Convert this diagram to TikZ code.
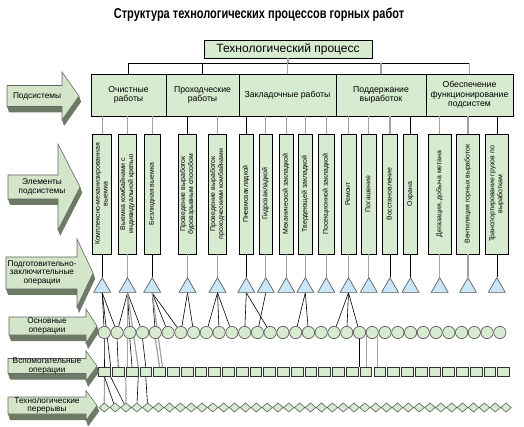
\documentclass[tikz,border=0pt]{standalone}
\usepackage{fontspec}
\setmainfont{Liberation Sans}
\usepackage{graphicx}
\usetikzlibrary{shapes.geometric,backgrounds}

\definecolor{boxgreen}{HTML}{D6EBCF}
\definecolor{arrface}{HTML}{D3E6CA}
\definecolor{arrside}{HTML}{6C7A66}
\definecolor{triblue}{HTML}{C9E7F6}
\definecolor{linegray}{HTML}{A2A2A2}

\tikzset{every picture/.style={line width=0.75pt}}
\tikzset{
  topbox/.style={draw=black, fill=boxgreen, line width=0.6pt, minimum width=126pt, minimum height=13.5pt, inner sep=0pt, font=\fontsize{9}{10}\selectfont},
  subbox/.style={draw=black, fill=boxgreen, line width=0.6pt, minimum height=31.5pt, inner sep=0pt, align=center, font=\fontsize{6.5}{7.2}\selectfont},
  elembox/.style={draw=black, fill=boxgreen, line width=0.6pt, minimum height=90pt, inner sep=0pt, font=\fontsize{5.2}{5.9}\selectfont},
  tri/.style={regular polygon, regular polygon sides=3, draw=black!65, fill=triblue, line width=0.5pt, minimum size=14.7pt, inner sep=0pt},
  circ/.style={circle, draw=black!65, fill=boxgreen, line width=0.5pt, minimum size=9.2pt, inner sep=0pt},
  sqr/.style={rectangle, draw=black!80, fill=boxgreen, line width=0.5pt, minimum width=8.8pt, minimum height=7pt, inner sep=0pt},
  dia/.style={diamond, draw=black!60, fill=boxgreen, line width=0.5pt, minimum width=8pt, minimum height=7pt, inner sep=0pt},
  blk/.style={draw=black, line width=0.45pt},
  gry/.style={draw=linegray, line width=0.9pt},
  arrfront/.style={fill=arrface, draw=black!60, line width=0.4pt},
  arrtext/.style={align=center, inner sep=0pt, font=\fontsize{6.2}{6.2}\selectfont},
}

% rotated text for the element boxes
\newcommand{\vlab}[1]{\rotatebox{90}{\begin{tabular}{@{}c@{}}#1\end{tabular}}}
% block arrow with a dark side: name, left, head start, tip, y, body half, head half, text x, text
\newcommand{\sidearrow}[9]{%
  \foreach \k in {1,...,12}{
    \fill[arrside, shift={({0.17*\k},{0.5*\k})}] (#2,{#5-#6}) -- (#3,{#5-#6}) -- (#3,{#5-#7}) -- (#4,#5) -- (#3,{#5+#7}) -- (#3,{#5+#6}) -- (#2,{#5+#6}) -- cycle;
  }
  \draw[arrfront] (#2,{#5-#6}) -- (#3,{#5-#6}) -- (#3,{#5-#7}) -- (#4,#5) -- (#3,{#5+#7}) -- (#3,{#5+#6}) -- (#2,{#5+#6}) -- cycle;
  \node[arrtext] (#1) at (#8,#5) {#9};
}

\begin{document}
\begin{tikzpicture}[x=0.75pt,y=0.75pt,yscale=-1,xscale=1]
    \useasboundingbox (0,0) rectangle (524,427);

    % Title
    \node[font=\fontsize{10.7}{12}\selectfont\bfseries] (title) at (259,15) {\scalebox{0.77}[1]{Структура технологических процессов горных работ}};

    % Text Node
    \node[topbox] (top) at (288,49) {Технологический процесс};

    % subsystems
    \node[subbox, minimum width=56.3pt] (p1) at (128.5,95) {Очистные\\работы};
    \node[subbox, minimum width=54.8pt] (p2) at (202.5,95) {Проходческие\\работы};
    \node[subbox, minimum width=72.8pt] (p3) at (287.5,95) {Закладочные работы};
    \node[subbox, minimum width=67.5pt] (p4) at (381,95) {Поддержание\\выработок};
    \node[subbox, minimum width=65.3pt] (p5) at (469.5,95) {Обеспечение\\функционирование\\подсистем};

    % elements of the subsystems
    \node[elembox, minimum width=14.3pt] (e1) at (102.2,194) {\vlab{Комплексно-механизированная\\выемка}};
    \node[elembox, minimum width=13.8pt] (e2) at (127.5,194) {\vlab{Выемка комбайнами с\\индивидуальной крепью}};
    \node[elembox, minimum width=11.8pt] (e3) at (152.2,194) {\vlab{Безлюдная выемка}};
    \node[elembox, minimum width=13.8pt] (e4) at (187.5,194) {\vlab{Проведение выработок\\буровзрывным способом}};
    \node[elembox, minimum width=13.8pt] (e5) at (217.5,194) {\vlab{Проведение выработок\\проходческими комбайнами}};
    \node[elembox, minimum width=10.5pt] (e6) at (246.3,194) {\vlab{Пневмозакладкой}};
    \node[elembox, minimum width=9.8pt] (e7) at (265.8,194) {\vlab{Гидрозакладкой}};
    \node[elembox, minimum width=10.5pt] (e8) at (286.3,194) {\vlab{Механической закладкой}};
    \node[elembox, minimum width=10.5pt] (e9) at (305.3,194) {\vlab{Твердеющей закладкой}};
    \node[elembox, minimum width=12pt] (e10) at (326.3,194) {\vlab{Посекционной закладкой}};
    \node[elembox, minimum width=11.3pt] (e11) at (348.5,194) {\vlab{Ремонт}};
    \node[elembox, minimum width=10.7pt] (e12) at (368.8,194) {\vlab{Погашение}};
    \node[elembox, minimum width=11.5pt] (e13) at (390,194) {\vlab{Восстановление}};
    \node[elembox, minimum width=10.8pt] (e14) at (410.5,194) {\vlab{Охрана}};
    \node[elembox, minimum width=17pt] (e15) at (439.7,194) {\vlab{Дегазация, добыча метана}};
    \node[elembox, minimum width=17pt] (e16) at (468,194) {\vlab{Вентиляция горных выработок}};
    \node[elembox, minimum width=17.3pt] (e17) at (496.8,194) {\vlab{Транспортирование грузов по\\выработкам}};

    % rows of operations
    \coordinate (brk) at (0,63);
    \coordinate (trirow) at (0,287.5);
    \foreach \i in {1,...,17} \node[tri] (t\i) at (e\i |- trirow) {};
    \foreach \i in {0,...,31} \node[circ] (c\i) at ({104.3+12.76*\i},332.5) {};
    \foreach \i in {0,...,29} \node[sqr] (s\i) at ({104.5+13.76*\i},372) {};
    \foreach \i in {0,...,37} \node[dia] (d\i) at ({104.3+10.857*\i},407.5) {};

    % tree above the elements
    \draw[blk] (p1.north |- brk) -- (p5.north |- brk);
    \draw[gry] (top.south) -- (top.south |- brk);
    \foreach \j/\s in {1/blk,2/blk,3/gry,4/gry,5/gry} \draw[\s] (p\j.north |- brk) -- (p\j.north);
    \foreach \i/\j/\s in {1/1/gry,2/1/gry,3/1/gry,4/2/blk,5/2/gry,6/3/blk,7/3/gry,8/3/gry,9/3/gry,10/3/gry,11/4/gry,12/4/gry,13/4/gry,14/4/blk,15/5/gry,16/5/gry,17/5/blk}
      \draw[\s] (p\j.south -| e\i.north) -- (e\i.north);
    \foreach \i/\s in {1/blk,2/gry,3/blk,4/gry,5/gry,6/blk,7/gry,8/gry,9/gry,10/gry,11/gry,12/gry,13/blk,14/blk,15/gry,16/gry,17/blk}
      \draw[\s] (e\i.south) -- (t\i.north);

    \begin{pgfonlayer}{background}
      % triangles to circles
      \foreach \a/\b in {1/0,1/1,2/1,2/2,2/3,3/4,3/5,3/6,4/6,4/7,5/8,5/9,5/10,6/11,6/13,7/12,9/15,9/16,11/18,11/19,11/20}
        \draw[blk] (t\a.south) -- (c\b);
      % triangles to squares
      \draw[blk] (t1.south) -- (s0.north east);
      \draw[gry] (t2.south) -- (t2.south |- s2.north);
      \draw[gry] (t2.south) -- (s2.north east);
      \draw[gry] (t3.south) -- (s4.60);
      % circles to squares
      \foreach \a/\s in {0/blk,1/blk,2/blk,3/blk,4/gry}
        \draw[\s] (c\a.south) -- (s\a.north);
      \draw[blk] (c20.south) -- (c20.south |- s19.north);
      \draw[gry] (c21.-150) -- (c21.-150 |- s19.north);
      \draw[gry] (c21.-40) -- (c21.-40 |- s20.north);
      % squares to diamonds
      \draw[gry] (s0.south) -- (d0.north);
      \draw[blk] (s0.south) -- (d1);
      \draw[blk] (s0.south east) -- (d2);
      \draw[gry] (s2.south west) -- (d2.north);
      \draw[blk] (s2.south east) -- (d3);
      \draw[blk] (s3.south) -- (d4);
    \end{pgfonlayer}

    % arrows on the left
    \sidearrow{a1}{7}{62}{79}{96}{10.5}{24}{37}{Подсистемы}
    \sidearrow{a2}{8}{58}{80}{187}{12}{43}{42}{Элементы\\подсистемы}
    \sidearrow{a3}{6}{77}{93}{273}{16}{34}{42}{Подготовительно-\\заключительные\\операции}
    \sidearrow{a4}{9}{86}{97}{326}{9}{17}{47}{Основные\\операции}
    \sidearrow{a5}{8}{86}{97}{366}{7.5}{15}{47}{Вспомогательные\\операции}
    \sidearrow{a6}{8}{86}{97}{405.5}{8.5}{15}{47}{Технологические\\перерывы}

\end{tikzpicture}
\end{document}
